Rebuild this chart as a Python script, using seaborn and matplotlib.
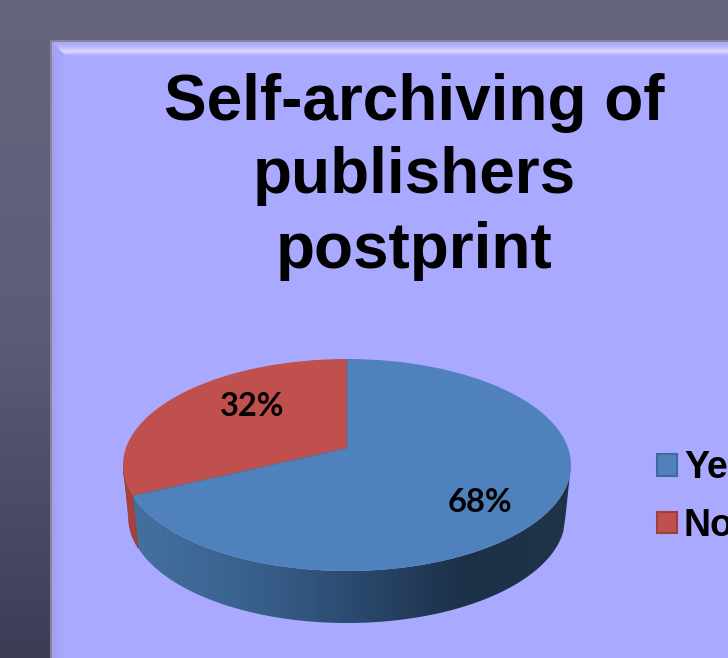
import numpy as np
import matplotlib
matplotlib.use('Agg')
import matplotlib.pyplot as plt
import seaborn as sns
from matplotlib.colors import LinearSegmentedColormap
from matplotlib.patches import Ellipse, Patch, Polygon, Rectangle

title_lines = ['Self-archiving of', 'publishers', 'postprint']
categories = ['Yes', 'No']
shares = [68, 32]
slice_colors = ['#4f81bd', '#c0504d']
edge_colors = ['#3f6a9a', '#9c3f3c']

W, H = 728, 658
sns.set_style('white')
plt.rcParams['font.family'] = ['Liberation Sans', 'DejaVu Sans']
fig = plt.figure(figsize=(W / 100, H / 100), dpi=100)

## slide background, pixel coordinates
bg = fig.add_axes([0, 0, 1, 1])
bg.set_xlim(0, W)
bg.set_ylim(H, 0)
bg.axis('off')
ramp = np.linspace(0, 1, 256).reshape(-1, 1)
slide_cmap = LinearSegmentedColormap.from_list('slide', ['#65657f', '#5c5c79', '#3c3c57'])
bg.imshow(ramp, extent=(0, W, H, 0), cmap=slide_cmap, aspect='auto', zorder=0)

# panel with bevel
bg.add_patch(Rectangle((50, 40), W, H, facecolor='#878793', edgecolor='none', zorder=1))
bg.add_patch(Rectangle((52, 42), W, H, facecolor='#a9a9ff', edgecolor='none', zorder=2))
top_cmap = LinearSegmentedColormap.from_list('top', ['#a9a9f4', '#b6b6ff', '#dcdcff', '#a9a9ff'])
bg.imshow(ramp, extent=(52, W, 56, 42), cmap=top_cmap, aspect='auto', zorder=3)
left_cmap = LinearSegmentedColormap.from_list('left', ['#9f9ff2', '#a9a9ff'])
bg.imshow(ramp.T, extent=(52, 64, H, 56), cmap=left_cmap, aspect='auto', zorder=3)
bg.add_patch(Polygon([(52, 42), (66, 56), (52, 56)], facecolor='#a3a3f8', edgecolor='none', zorder=4))
bg.set_xlim(0, W)
bg.set_ylim(H, 0)

for line, base in zip(title_lines, [120, 193, 268]):
    bg.text(414, base, line, fontsize=46, fontweight='bold', color='black',
            ha='center', va='baseline', zorder=5)

## pie, one data unit is the top ellipse radius
left, right, top, bottom = 123, 571, 359, 571
depth = 52 / 106
ax = fig.add_axes([left / W, 1 - (bottom + 56) / H, (right - left) / W, (bottom + 56 - top) / H])
ax.patch.set_alpha(0)

apex = 0.16
wedges, _, pct = ax.pie(shares, colors=sns.color_palette(slice_colors), startangle=90,
                        counterclock=False, center=(0, apex), radius=3, autopct='%d%%',
                        wedgeprops=dict(edgecolor='#5a6f8f', linewidth=0.6, zorder=3))
ax.set_aspect('auto')
ax.set_xlim(-1, 1)
ax.set_ylim(-1 - 56 / 106, 1)

# pie wedges come with clipping switched off
top_face = Ellipse((0, 0), 2, 2, transform=ax.transData)
for w in wedges:
    w.set_clip_on(True)
    w.set_clip_path(top_face)

# where the slice border meets the rim
angle = np.deg2rad(90 - 360 * shares[0] / sum(shares))
t = -apex * np.sin(angle) + np.sqrt((apex * np.sin(angle)) ** 2 - apex ** 2 + 1)
split_x = t * np.cos(angle)

# side wall, lower rim a bit narrower for the perspective
def wall(x0, x1, taper=0.975):
    xs = np.linspace(x0, x1, 200)
    ys = -np.sqrt(np.clip(1 - xs ** 2, 0, 1))
    return np.r_[np.c_[xs, ys], np.c_[xs[::-1] * taper, ys[::-1] - depth]]

wall_cmap = LinearSegmentedColormap.from_list('wall', ['#44709f', '#3a628f', '#2b4a70', '#1c3148', '#1f3349'])
blue_wall = Polygon(wall(split_x, 1), closed=True, transform=ax.transData, facecolor='none', edgecolor='none')
ax.add_patch(blue_wall)
grad = ax.imshow(ramp.T, extent=(split_x, 1, -1 - depth, 0), cmap=wall_cmap, aspect='auto', zorder=1)
grad.set_clip_path(blue_wall)
ax.add_patch(Polygon(wall(-1, split_x), closed=True, facecolor='#a8403c', edgecolor='#8f3835',
                     linewidth=0.5, zorder=1))
ax.set_aspect('auto')
ax.set_xlim(-1, 1)
ax.set_ylim(-1 - 56 / 106, 1)
ax.axis('off')

# percent labels
for txt, px, py in zip(pct, [480, 252], [503, 407]):
    txt.set_position(((px - 347) / 224, (465 - py) / 106))
    txt.set_fontfamily(['Lato', 'DejaVu Sans'])
    txt.set_fontweight('bold')
    txt.set_fontsize(23.5)
    txt.set_color('black')
    txt.set_ha('center')
    txt.set_va('center')
    txt.set_zorder(6)

## legend runs off the right edge like the screenshot
handles = [Patch(facecolor=c, edgecolor=e, linewidth=1.5) for c, e in zip(slice_colors, edge_colors)]
fig.legend(handles, categories, loc='upper left', bbox_to_anchor=(657 / W, 1 - 450 / H),
           frameon=False, ncol=1, prop=dict(family='Liberation Sans', weight='bold', size=27),
           labelcolor='black', handlelength=0.52, handleheight=0.52, handletextpad=0.2,
           labelspacing=0.58, borderpad=0, borderaxespad=0)

plt.savefig('out.png', dpi=100)
